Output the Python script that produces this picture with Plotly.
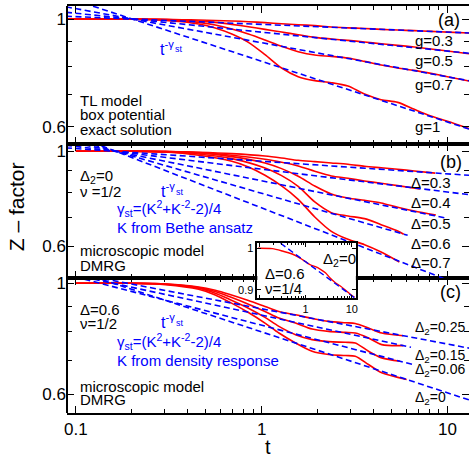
import plotly.graph_objects as go

FONT = "Liberation Sans, Arial, sans-serif"
RED = "#ff0000"
BLUE = "#0000ff"

# ---------------- data ----------------
# panel (a): TL model, box potential, exact solution
t_a = [0.0884, 0.1334, 0.2012, 0.2471, 0.3034, 0.3728, 0.4578, 0.5623, 0.6906, 0.8483,
       1.042, 1.280, 1.572, 1.931, 2.371, 2.913, 3.578, 4.394, 5.397, 6.629, 8.142, 10.0, 13.06]
z_a_g03 = [1, 1, 1, 0.9992, 0.9984, 0.9968, 0.9953, 0.9929, 0.9906, 0.9874, 0.9828, 0.9781,
           0.9735, 0.9689, 0.9628, 0.9590, 0.9560, 0.9522, 0.9492, 0.9462, 0.9432, 0.9395, 0.9358]
z_a_g05 = [1, 1, 1, 0.9992, 0.9976, 0.9953, 0.9906, 0.9843, 0.9750, 0.9643, 0.9522, 0.9402,
           0.9284, 0.9167, 0.9095, 0.9038, 0.8967, 0.8896, 0.8826, 0.8757, 0.8674, 0.8592, 0.8484]
z_a_g07 = [1, 1, 1, 0.9984, 0.9961, 0.9921, 0.9843, 0.9720, 0.9537, 0.9313, 0.9052, 0.8784,
           0.8565, 0.8430, 0.8377, 0.8311, 0.8181, 0.8040, 0.7927, 0.7839, 0.7728, 0.7607, 0.7452]
z_a_g1 = [1, 1, 0.9992, 0.9968, 0.9937, 0.9874, 0.9766, 0.9582, 0.9313, 0.8953, 0.8444, 0.7927,
          0.7607, 0.7465, 0.7394, 0.7278, 0.7007, 0.6821, 0.6735, 0.6515, 0.6312, 0.6155, 0.5945]
t_fit_a = [0.0884, 13.06]
fit_a_g03 = [1.0132, 0.9358]
fit_a_g05 = [1.0326, 0.8500]
fit_a_g07 = [1.0594, 0.7462]
fit_a_g1 = [1.1081, 0.5934]

# panel (b): microscopic model, DMRG, Delta2 = 0, nu = 1/2
t_b_03 = [0.1, 0.2012, 0.3034, 0.4578, 0.6906, 1.042, 1.280, 1.572, 1.931, 2.371, 2.913, 3.578, 4.394, 5.397, 6.629, 8.587]
z_b_03 = [1, 1, 0.9982, 0.9946, 0.9875, 0.9751, 0.9647, 0.9526, 0.9458, 0.9390, 0.9323, 0.9223, 0.9149, 0.9075, 0.8994, 0.8889]
t_b_04 = [0.1, 0.2012, 0.3034, 0.4578, 0.6906, 1.042, 1.280, 1.572, 1.931, 2.371, 2.913, 3.578, 4.394, 5.397, 7.108]
z_b_04 = [1, 1, 0.9982, 0.9928, 0.9787, 0.9578, 0.9424, 0.9240, 0.8978, 0.8755, 0.8645, 0.8522, 0.8415, 0.8310, 0.8162]
t_b_05 = [0.1, 0.2012, 0.3034, 0.4578, 0.6906, 1.042, 1.280, 1.572, 1.931, 2.371, 2.913, 3.578, 4.394, 5.397, 6.629, 8.660]
z_b_05 = [1, 1, 0.9982, 0.9911, 0.9717, 0.9390, 0.9108, 0.8739, 0.8295, 0.7945, 0.7775, 0.7678, 0.7568, 0.7394, 0.7249, 0.7094]
t_b_06 = [0.1, 0.2012, 0.3034, 0.4578, 0.6906, 1.042, 1.280, 1.572, 1.931, 2.371, 2.913, 3.578, 4.394, 5.397, 5.812]
z_b_06 = [1, 1, 0.9982, 0.9857, 0.9612, 0.9140, 0.8770, 0.8280, 0.7609, 0.7184, 0.7056, 0.6955, 0.6734, 0.6508, 0.6392]
t_b_07 = [0.1, 0.2012, 0.3034, 0.4578, 0.6906, 0.8483, 1.042, 1.280, 1.572, 1.931, 2.371, 2.913, 3.578, 4.394, 5.510]
z_b_07 = [1, 1, 0.9964, 0.9787, 0.9475, 0.9190, 0.8786, 0.8295, 0.7720, 0.7018, 0.6496, 0.6222, 0.6045, 0.5811, 0.5506]
t_fit_b_03 = [0.0884, 13.06]; fit_b_03 = [1.0184, 0.8786]
t_fit_b_04 = [0.0884, 13.06]; fit_b_04 = [1.0334, 0.7916]
t_fit_b_05 = [0.0884, 9.797]; fit_b_05 = [1.0557, 0.6980]
t_fit_b_06 = [0.0884, 6.105]; fit_b_06 = [1.0803, 0.6358]
t_fit_b_07 = [0.0884, 13.06]; fit_b_07 = [1.1096, 0.4778]

# panel (c): microscopic model, DMRG, Delta = 0.6, nu = 1/2
t_c = [0.1, 0.2012, 0.3034, 0.4578, 0.5623, 0.6683, 0.8483, 1.042, 1.238, 1.521, 1.868, 2.294, 2.818, 3.189, 3.758, 4.430]
t_c_end_025 = 5.788
t_c_end_015 = 5.788
t_c_end_006 = 5.554
t_c_end_000 = 6.031
z_c_025 = [1, 1, 0.9970, 0.9834, 0.9685, 0.9509, 0.9238, 0.8988, 0.8784, 0.8651, 0.8507, 0.8392, 0.8340, 0.8315, 0.8139, 0.7955, 0.7859]
z_c_015 = [1, 1, 0.9970, 0.9804, 0.9626, 0.9408, 0.9084, 0.8784, 0.8520, 0.8328, 0.8102, 0.8016, 0.7980, 0.7955, 0.7775, 0.7542, 0.7508]
z_c_006 = [1, 1, 0.9954, 0.9774, 0.9553, 0.9294, 0.8919, 0.8547, 0.8202, 0.7895, 0.7717, 0.7646, 0.7623, 0.7600, 0.7316, 0.7096, 0.6988]
z_c_000 = [1, 1, 0.9939, 0.9729, 0.9480, 0.9181, 0.8744, 0.8328, 0.7955, 0.7600, 0.7316, 0.7205, 0.7172, 0.7150, 0.6883, 0.6625, 0.6426]
t_fit_c_025 = [0.0884, 13.06]; fit_c_025 = [1.0551, 0.7421]
t_fit_c_015 = [0.0884, 6.362]; fit_c_015 = [1.0479, 0.7451]
t_fit_c_006 = [0.0884, 6.494]; fit_c_006 = [1.0417, 0.6884]
t_fit_c_000 = [0.0884, 13.06]; fit_c_000 = [1.0741, 0.5849]

# inset: Delta = 0.6, nu = 1/4, Delta2 = 0
t_in = [0.0947, 0.192, 0.315, 0.516, 0.781, 1.0, 1.28, 1.639, 2.098, 2.687, 3.44, 4.404, 5.638, 7.218, 9.24, 11.43]
z_in = [1.0, 0.999, 0.9932, 0.9857, 0.9750, 0.9667, 0.9587, 0.9546, 0.9483, 0.9402, 0.9270, 0.9167, 0.9091, 0.9000, 0.8902, 0.8835]
t_fit_in = [0.29, 11.83]; fit_in = [1.0127, 0.8812]

x_major = [0.1, 1, 10]
x_major_text = ["0.1", "1", "10"]
x_minor = [0.2, 0.3, 0.4, 0.5, 0.6, 0.7, 0.8, 0.9, 2, 3, 4, 5, 6, 7, 8, 9]
y_major = [0.6, 1]
y_major_text = ["0.6", "1"]
y_minor = [0.7, 0.8, 0.9]

# ---------------- layout geometry (pixels) ----------------
W, H = 471, 459
ML, MR, MT, MB = 67, 0, 6, 46
PB = H - MB
B_AB, B_BC = 143.5, 278.0


def px(x):
    return (x - ML) / (W - ML - MR)


def py(y):
    return (PB - y) / (PB - MT)


dom_c = [0.0, py(B_BC)]
dom_b = [py(B_BC), py(B_AB)]
dom_a = [py(B_AB), 1.0]

fig = go.Figure()


def red(t, z, xa, ya, w=1.6):
    fig.add_trace(go.Scatter(x=t, y=z, mode="lines", xaxis=xa, yaxis=ya, showlegend=False,
                             hoverinfo="skip",
                             line=dict(color=RED, width=w, shape="spline", smoothing=0.8)))


def fit(t, z, xa, ya, w=1.6):
    fig.add_trace(go.Scatter(x=t, y=z, mode="lines", xaxis=xa, yaxis=ya, showlegend=False,
                             hoverinfo="skip",
                             line=dict(color=BLUE, width=w, dash="6px,3.5px")))


# panel c -> x/y, panel b -> x2/y2, panel a -> x3/y3, inset -> x4/y4
red(t_c + [t_c_end_025], z_c_025, "x", "y")
red(t_c + [t_c_end_015], z_c_015, "x", "y")
red(t_c + [t_c_end_006], z_c_006, "x", "y")
red(t_c + [t_c_end_000], z_c_000, "x", "y")
fit(t_fit_c_025, fit_c_025, "x", "y")
fit(t_fit_c_015, fit_c_015, "x", "y")
fit(t_fit_c_006, fit_c_006, "x", "y")
fit(t_fit_c_000, fit_c_000, "x", "y")

red(t_b_03, z_b_03, "x2", "y2")
red(t_b_04, z_b_04, "x2", "y2")
red(t_b_05, z_b_05, "x2", "y2")
red(t_b_06, z_b_06, "x2", "y2")
red(t_b_07, z_b_07, "x2", "y2")
fit(t_fit_b_03, fit_b_03, "x2", "y2")
fit(t_fit_b_04, fit_b_04, "x2", "y2")
fit(t_fit_b_05, fit_b_05, "x2", "y2")
fit(t_fit_b_06, fit_b_06, "x2", "y2")
fit(t_fit_b_07, fit_b_07, "x2", "y2")

for z in (z_a_g03, z_a_g05, z_a_g07, z_a_g1):
    red(t_a, z, "x3", "y3")
for z in (fit_a_g03, fit_a_g05, fit_a_g07, fit_a_g1):
    fit(t_fit_a, z, "x3", "y3")

red(t_in, z_in, "x4", "y4", w=1.4)
fit(t_fit_in, fit_in, "x4", "y4", w=1.4)

tickfont = dict(family=FONT, size=17, color="black")


def xax(domain_anchor, labels):
    return dict(type="log", range=[-1.048, 1.116], domain=[0, 1], anchor=domain_anchor,
                tickvals=x_major, ticktext=x_major_text, showticklabels=labels,
                ticks="inside", ticklen=7, tickwidth=1.4, tickcolor="black",
                minor=dict(tickvals=x_minor, ticks="inside", ticklen=4, tickwidth=1.2, tickcolor="black"),
                showline=True, linewidth=2, linecolor="black", mirror="ticks",
                showgrid=False, zeroline=False, tickfont=tickfont)


def yax(domain, rng, anchor):
    return dict(type="log", range=rng, domain=domain, anchor=anchor,
                tickvals=y_major, ticktext=y_major_text,
                ticks="inside", ticklen=7, tickwidth=1.4, tickcolor="black",
                minor=dict(tickvals=y_minor, ticks="inside", ticklen=5, tickwidth=1.2, tickcolor="black"),
                showline=False, mirror="ticks", showgrid=False, zeroline=False, tickfont=tickfont)


fig.update_layout(
    width=W, height=H, margin=dict(l=ML, r=MR, t=MT, b=MB),
    paper_bgcolor="white", plot_bgcolor="white", showlegend=False,
    font=dict(family=FONT, color="black"),
    xaxis=xax("y", True), yaxis=yax(dom_c, [-0.2591, 0.01059], "x"),
    xaxis2=xax("y2", False), yaxis2=yax(dom_b, [-0.2967, 0.01827], "x2"),
    xaxis3=xax("y3", False), yaxis3=yax(dom_a, [-0.2564, 0.0268], "x3"),
    xaxis4=dict(type="log", range=[-1.039, 1.086], domain=[px(258.3), px(357.3)], anchor="y4",
                tickvals=x_major, ticktext=["", "1", "10"], ticks="inside", ticklen=4, tickwidth=1.2,
                minor=dict(tickvals=x_minor, ticks="inside", ticklen=2.5, tickwidth=1, tickcolor="black"),
                showline=True, linewidth=1.5, linecolor="black", mirror="ticks",
                showgrid=False, zeroline=False, tickcolor="black",
                tickfont=dict(family=FONT, size=11, color="black")),
    yaxis4=dict(type="log", range=[-0.0549, 0.0058], domain=[py(298.3), py(243.0)], anchor="x4",
                tickvals=[0.9, 1], ticktext=["0.9", "1"], ticks="inside", ticklen=4, tickwidth=1.2,
                showline=True, linewidth=1.5, linecolor="black", mirror="ticks",
                showgrid=False, zeroline=False, tickcolor="black",
                tickfont=dict(family=FONT, size=11, color="black")),
)

# left border of the three stacked panels
fig.add_shape(type="line", xref="paper", yref="paper", x0=0, x1=0, y0=0, y1=1,
              line=dict(color="black", width=2), layer="above")


def note(text, x, y, size=15, color="black", xanchor="left", yanchor="middle", angle=0):
    fig.add_annotation(text=text, x=px(x), y=py(y), xref="paper", yref="paper", showarrow=False,
                       xanchor=xanchor, yanchor=yanchor, borderpad=0, textangle=angle,
                       font=dict(family=FONT, size=size, color=color))


# panel (a)
note("(a)", 439, 20, size=18)
note("g=0.3", 416, 40.5)
note("g=0.5", 416, 61)
note("g=0.7", 416, 84)
note("g=1", 416, 126.5)
note("t<sup>-γ</sup>", 159, 47.5, size=16, color=BLUE)
note("st", 174.5, 49.5, size=9, color=BLUE)
note("TL model", 79, 100)
note("box potential", 79, 114.5)
note("exact solution", 79, 129.5)

# panel (b)
note("(b)", 441, 162, size=18)
for lab, yy in (("Δ=0.3", 182), ("Δ=0.4", 202.5), ("Δ=0.5", 223), ("Δ=0.6", 243), ("Δ=0.7", 262.5)):
    note(lab, 412, yy)
note("Δ<sub>2</sub>=0", 79, 176)
note("ν =1/2", 79, 191)
note("t<sup>-γ</sup>", 160, 189.5, size=16, color=BLUE)
note("st", 175.5, 191.5, size=9, color=BLUE)
note("γ<sub>st</sub>=(K<sup>2</sup>+K<sup>-2</sup>-2)/4", 116, 208, color=BLUE)
note("K from Bethe ansatz", 116, 228, color=BLUE)
note("microscopic model", 79, 251)
note("DMRG", 79, 265)

# panel (c)
note("(c)", 441, 292, size=18)
for lab, yy in (("Δ<sub>2</sub>=0.25", 328), ("Δ<sub>2</sub>=0.15", 356), ("Δ<sub>2</sub>=0.06", 370),
                ("Δ<sub>2</sub>=0", 398)):
    note(lab, 416, yy, size=14)
note("Δ=0.6", 79, 309)
note("ν=1/2", 79, 323)
note("t<sup>-γ</sup>", 160, 321, size=16, color=BLUE)
note("st", 175.5, 323, size=9, color=BLUE)
note("γ<sub>st</sub>=(K<sup>2</sup>+K<sup>-2</sup>-2)/4", 116, 341, color=BLUE)
note("K from density response", 116, 360, color=BLUE)
note("microscopic model", 79, 386)
note("DMRG", 79, 399)

# inset
note("Δ<sub>2</sub>=0", 323, 259)
note("Δ=0.6", 265, 273)
note("ν=1/4", 265, 288)

# axis titles
note("t", 269, 459, size=20, xanchor="center", yanchor="bottom")
note("Z – factor", 16, 207, size=21, xanchor="center", angle=-90)

fig.write_html("out.html", config={"displayModeBar": False},
               post_script="document.body.style.margin='0';document.body.style.overflow='hidden';")
